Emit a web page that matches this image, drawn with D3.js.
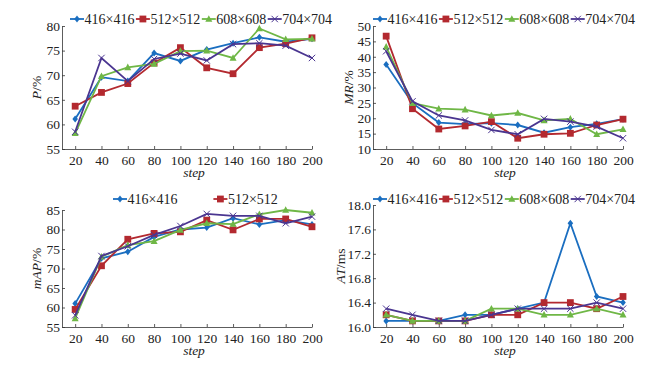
<!DOCTYPE html>
<html>
<head>
<meta charset="utf-8">
<script src="https://cdn.jsdelivr.net/npm/d3@7"></script>
<style>
  body { margin: 0; background: #fff; }
  svg { font-family: "Liberation Serif", "Times New Roman", serif; }
</style>
</head>
<body>
<svg width="656" height="384"></svg>
<script>
// DATA
const steps = [20, 40, 60, 80, 100, 120, 140, 160, 180, 200];
const seriesNames = ['416×416', '512×512', '608×608', '704×704'];

const pValues = [
  [61.1, 69.6, 68.8, 74.5, 72.9, 75.2, 76.5, 77.7, 76.8, 77.4],
  [63.7, 66.5, 68.3, 72.5, 75.6, 71.5, 70.3, 75.6, 76.4, 77.6],
  [58.2, 69.8, 71.6, 72.3, 74.9, 75.0, 73.5, 79.5, 77.3, 77.4],
  [58.5, 73.5, 68.8, 73.3, 74.4, 73.0, 76.3, 76.5, 76.0, 73.5]
];
const mrValues = [
  [37.5, 24.9, 18.6, 18.1, 18.4, 17.8, 15.3, 17.1, 18.2, 19.7],
  [46.7, 23.1, 16.5, 17.5, 18.9, 13.5, 14.8, 15.1, 17.8, 19.7],
  [43.2, 24.9, 23.1, 22.8, 20.9, 21.7, 19.3, 19.8, 14.8, 16.4],
  [41.8, 25.5, 20.9, 19.3, 16.2, 14.8, 19.8, 18.9, 17.3, 13.5]
];
const mapValues = [
  [61.0, 72.6, 74.3, 78.1, 80.0, 80.5, 82.9, 81.3, 82.4, 81.3],
  [59.5, 70.7, 77.5, 79.0, 79.4, 82.4, 79.9, 82.7, 82.7, 80.7],
  [57.2, 73.0, 76.0, 77.0, 79.9, 81.6, 81.4, 83.9, 85.0, 84.3],
  [58.0, 73.2, 75.7, 78.6, 80.9, 84.0, 83.5, 83.5, 81.6, 83.3]
];
const atValues = [
  [16.1, 16.1, 16.1, 16.2, 16.2, 16.3, 16.4, 17.7, 16.5, 16.4],
  [16.2, 16.1, 16.1, 16.1, 16.2, 16.2, 16.4, 16.4, 16.3, 16.5],
  [16.2, 16.1, 16.1, 16.1, 16.3, 16.3, 16.2, 16.2, 16.3, 16.2],
  [16.3, 16.2, 16.1, 16.1, 16.2, 16.3, 16.3, 16.3, 16.4, 16.3]
];

const pTicks = [55, 60, 65, 70, 75, 80];
const mrTicks = [10, 15, 20, 25, 30, 35, 40, 45, 50];
const mapTicks = [55, 60, 65, 70, 75, 80, 85];
const atTicks = [16.0, 16.4, 16.8, 17.2, 17.6, 18.0];

// STYLE
const colors = ['#1a6ec0', '#b3292f', '#6fb746', '#4a3590'];
const markers = ['diamond', 'square', 'triangle', 'cross'];

const svg = d3.select('svg');

function drawMarker(g, type, x, y, color) {
  if (type === 'diamond') {
    g.append('path')
      .attr('d', `M${x} ${y-3.5}L${x+2.8} ${y}L${x} ${y+3.5}L${x-2.8} ${y}Z`)
      .attr('fill', color);
  } else if (type === 'square') {
    g.append('rect')
      .attr('x', x-3.4).attr('y', y-3.4)
      .attr('width', 6.8).attr('height', 6.8)
      .attr('fill', color);
  } else if (type === 'triangle') {
    g.append('path')
      .attr('d', `M${x} ${y-3.8}L${x+3.5} ${y+2.8}L${x-3.5} ${y+2.8}Z`)
      .attr('fill', color);
  } else {
    g.append('path')
      .attr('d', `M${x-3.2} ${y-3.2}L${x+3.2} ${y+3.2}M${x-3.2} ${y+3.2}L${x+3.2} ${y-3.2}`)
      .attr('stroke', color)
      .attr('stroke-width', 1);
  }
}

function drawPanel(cfg) {
  const g = svg.append('g');
  const x = d3.scaleLinear().domain([10, 200]).range([cfg.left, cfg.right]);
  const y = d3.scaleLinear().domain(cfg.yDomain).range([cfg.bottom, cfg.top]);

  // axes
  const xAxis = d3.axisBottom(x).tickValues(steps).tickSizeInner(-3).tickSizeOuter(0).tickPadding(6);
  const gx = g.append('g')
    .attr('transform', `translate(0,${cfg.bottom})`)
    .call(xAxis);
  const yAxis = d3.axisLeft(y).tickValues(cfg.ticks).tickSizeInner(-3).tickSizeOuter(0)
    .tickPadding(2).tickFormat(cfg.format);
  const gy = g.append('g')
    .attr('transform', `translate(${cfg.left},0)`)
    .call(yAxis);
  [gx, gy].forEach(a => {
    a.selectAll('.domain').attr('stroke', '#333').attr('stroke-width', 0.8);
    a.selectAll('.tick line').attr('stroke', '#333').attr('stroke-width', 0.8);
    a.selectAll('text')
      .attr('font-family', '"Liberation Serif", serif')
      .attr('font-size', 13.5)
      .attr('fill', '#222');
  });

  // lines
  const line = d3.line().x((d, i) => x(steps[i])).y(d => y(d));
  cfg.data.forEach((vals, s) => {
    g.append('path')
      .datum(vals)
      .attr('d', line)
      .attr('fill', 'none')
      .attr('stroke', colors[s])
      .attr('stroke-width', 1.8);
    vals.forEach((v, i) => drawMarker(g, markers[s], x(steps[i]), y(v), colors[s]));
  });

  // axis titles
  g.append('text')
    .attr('x', (cfg.left + cfg.right) / 2 + 7)
    .attr('y', cfg.bottom + 28)
    .attr('text-anchor', 'middle')
    .attr('font-size', 13.5)
    .attr('font-style', 'italic')
    .attr('fill', '#222')
    .text('step');
  const yt = g.append('text')
    .attr('transform', `translate(${cfg.left - cfg.titleOffset},${(cfg.top + cfg.bottom) / 2}) rotate(-90)`)
    .attr('text-anchor', 'middle')
    .attr('dy', '0.35em')
    .attr('font-size', 13.5)
    .attr('fill', '#222');
  yt.append('tspan').attr('font-style', 'italic').text(cfg.yItalic);
  yt.append('tspan').text(cfg.yRest);

  // legend
  let lx = cfg.legend.x;
  cfg.legend.items.forEach(s => {
    const ly = cfg.legend.y;
    g.append('line')
      .attr('x1', lx).attr('x2', lx + 14)
      .attr('y1', ly).attr('y2', ly)
      .attr('stroke', colors[s]).attr('stroke-width', 1.8);
    drawMarker(g, markers[s], lx + 7, ly, colors[s]);
    const t = g.append('text')
      .attr('x', lx + 14.5)
      .attr('y', ly + 4.8)
      .attr('font-size', 14)
      .attr('fill', '#222')
      .text(seriesNames[s]);
    lx += 14.5 + t.node().getComputedTextLength() + cfg.legend.gap;
  });
}

const fmtInt = d3.format('d');
const fmtOne = d3.format('.1f');

drawPanel({
  left: 62, right: 312, top: 26, bottom: 149,
  yDomain: [55, 80], ticks: pTicks, format: fmtInt,
  data: pValues, yItalic: 'P', yRest: '/%', titleOffset: 26,
  legend: { x: 70, y: 19, items: [0, 1, 2, 3], gap: 1.5 }
});
drawPanel({
  left: 373, right: 623, top: 26, bottom: 149,
  yDomain: [10, 50], ticks: mrTicks, format: fmtInt,
  data: mrValues, yItalic: 'MR', yRest: '/%', titleOffset: 25,
  legend: { x: 373, y: 19, items: [0, 1, 2, 3], gap: 1.5 }
});
drawPanel({
  left: 62, right: 312, top: 210, bottom: 327,
  yDomain: [55, 85], ticks: mapTicks, format: fmtInt,
  data: mapValues, yItalic: 'mAP', yRest: '/%', titleOffset: 26,
  legend: { x: 113, y: 199, items: [0, 1], gap: 36 }
});
drawPanel({
  left: 373, right: 623, top: 205, bottom: 327,
  yDomain: [16, 18], ticks: atTicks, format: fmtOne,
  data: atValues, yItalic: 'AT', yRest: '/ms', titleOffset: 33,
  legend: { x: 373, y: 199, items: [0, 1, 2, 3], gap: 1.5 }
});
</script>
</body>
</html>
